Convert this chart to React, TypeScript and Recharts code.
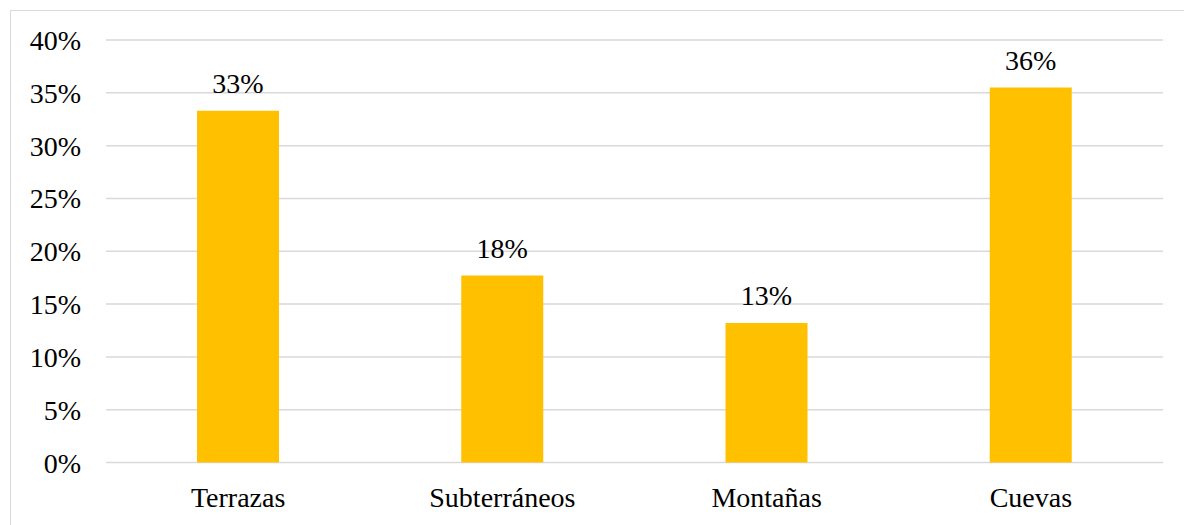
import React from "react";
import {
  BarChart,
  Bar,
  XAxis,
  YAxis,
  CartesianGrid,
  LabelList,
} from "recharts";

const categorias = ["Terrazas", "Subterráneos", "Montañas", "Cuevas"];
const porcentajes = [0.333, 0.177, 0.132, 0.355];
const ticksY = [0, 0.05, 0.1, 0.15, 0.2, 0.25, 0.3, 0.35, 0.4];

const data = categorias.map((nombre, i) => ({ nombre, valor: porcentajes[i] }));

const FUENTE = "Liberation Serif";
const estiloTexto = { fontFamily: FUENTE, fontSize: 28, fill: "#000" };
const pct = (v: number) => `${Math.round(v * 100)}%`;

// ticks y etiquetas dibujados a mano para fijar la fuente serif
function TickX(props: any) {
  const { x, y, payload } = props;
  return (
    <text x={x} y={y + 20} textAnchor="middle" fontFamily={FUENTE} style={estiloTexto}>
      {payload.value}
    </text>
  );
}

function TickY(props: any) {
  const { x, y, payload } = props;
  return (
    <text x={x} y={y + 10} textAnchor="end" fontFamily={FUENTE} style={estiloTexto}>
      {pct(payload.value)}
    </text>
  );
}

function Etiqueta(props: any) {
  const { x, y, width, value } = props;
  return (
    <text x={x + width / 2} y={y - 18} textAnchor="middle" fontFamily={FUENTE} style={estiloTexto}>
      {pct(Number(value))}
    </text>
  );
}

export default function App() {
  return (
    <div
      style={{
        position: "absolute",
        left: 0,
        top: 0,
        width: 1184,
        height: 525,
        overflow: "hidden",
        background: "#fff",
        fontFamily: FUENTE,
      }}
    >
      {/* marco del gráfico, se sale por la derecha y por abajo */}
      <div
        style={{
          position: "absolute",
          left: 10,
          top: 10,
          width: 1200,
          height: 540,
          border: "1.5px solid #d9d9d9",
          boxSizing: "border-box",
        }}
      />
      <div style={{ position: "absolute", left: 0, top: 0 }}>
        <BarChart
          width={1184}
          height={525}
          data={data}
          margin={{ top: 40, right: 21, bottom: 0, left: 0 }}
          barSize={82}
        >
          <CartesianGrid stroke="#d9d9d9" strokeWidth={1.5} vertical={false} />
          <XAxis
            dataKey="nombre"
            height={62.5}
            axisLine={false}
            tickLine={false}
            tickSize={0}
            tickMargin={24}
            tick={TickX}
          />
          <YAxis
            width={106}
            domain={[0, 0.4]}
            ticks={ticksY}
            interval={0}
            axisLine={false}
            tickLine={false}
            tickSize={0}
            tickMargin={25}
            tick={TickY}
          />
          <Bar dataKey="valor" fill="#ffc000" isAnimationActive={false}>
            <LabelList dataKey="valor" content={Etiqueta} />
          </Bar>
        </BarChart>
      </div>
    </div>
  );
}
